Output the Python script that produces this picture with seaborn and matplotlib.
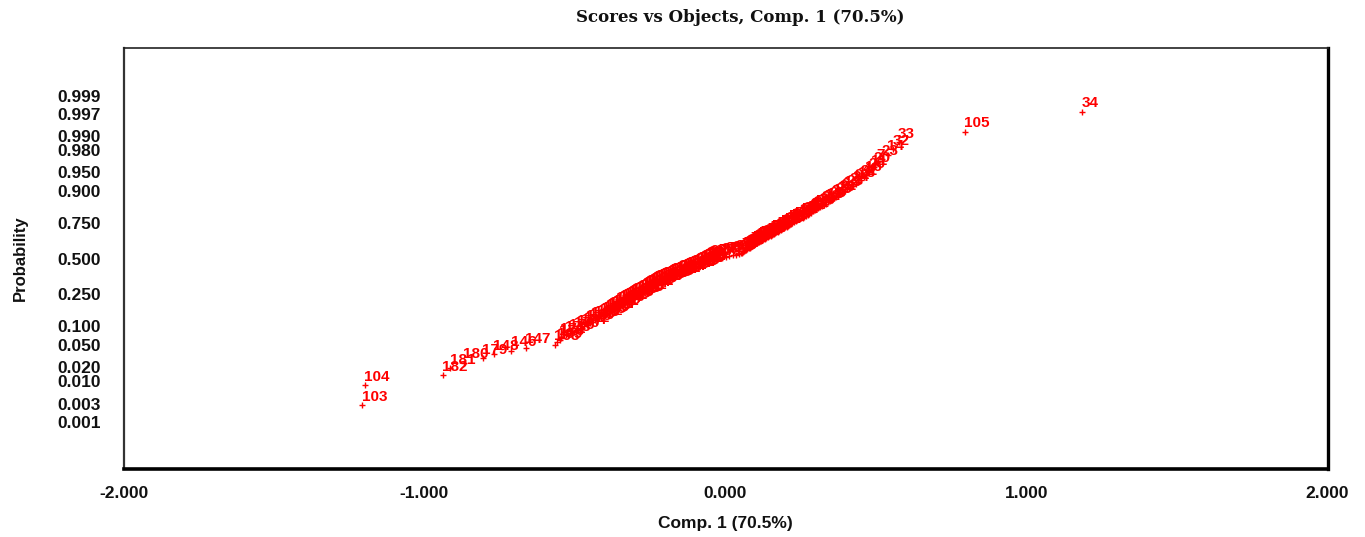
import matplotlib
matplotlib.use("Agg")
import matplotlib.pyplot as plt
import numpy as np
import pandas as pd
import seaborn as sns
from statistics import NormalDist

# Component 1 scores, sorted ascending (one per object)
scores = [
    -1.206, -1.199, -0.940, -0.914, -0.870, -0.806, -0.770, -0.711, -0.664, -0.566,
    -0.559, -0.551, -0.546, -0.531, -0.518, -0.502, -0.491, -0.477, -0.469, -0.461,
    -0.450, -0.444, -0.433, -0.426, -0.414, -0.408, -0.400, -0.396, -0.388, -0.384,
    -0.376, -0.372, -0.364, -0.360, -0.352, -0.348, -0.340, -0.336, -0.329, -0.322,
    -0.318, -0.310, -0.307, -0.300, -0.297, -0.290, -0.287, -0.280, -0.276, -0.271,
    -0.266, -0.262, -0.256, -0.251, -0.247, -0.241, -0.237, -0.231, -0.226, -0.221,
    -0.214, -0.209, -0.202, -0.197, -0.190, -0.185, -0.178, -0.172, -0.167, -0.160,
    -0.155, -0.148, -0.142, -0.137, -0.130, -0.124, -0.119, -0.112, -0.106, -0.102,
    -0.097, -0.093, -0.088, -0.084, -0.080, -0.075, -0.071, -0.067, -0.062, -0.058,
    -0.054, -0.046, -0.033, -0.022, -0.010, 0.001, 0.013, 0.024, 0.036, 0.046,
    0.051, 0.054, 0.058, 0.062, 0.066, 0.069, 0.073, 0.077, 0.081, 0.084,
    0.088, 0.092, 0.096, 0.099, 0.104, 0.107, 0.112, 0.117, 0.121, 0.126,
    0.131, 0.136, 0.140, 0.145, 0.150, 0.155, 0.160, 0.164, 0.169, 0.174,
    0.179, 0.184, 0.188, 0.193, 0.198, 0.203, 0.208, 0.212, 0.217, 0.222,
    0.227, 0.233, 0.238, 0.244, 0.250, 0.256, 0.262, 0.267, 0.273, 0.279,
    0.285, 0.291, 0.296, 0.302, 0.308, 0.314, 0.321, 0.327, 0.334, 0.341,
    0.348, 0.354, 0.361, 0.368, 0.375, 0.381, 0.388, 0.396, 0.405, 0.414,
    0.423, 0.432, 0.441, 0.450, 0.459, 0.467, 0.476, 0.485, 0.493, 0.502,
    0.521, 0.540, 0.558, 0.575, 0.796, 1.186,
]

# Object numbers in the same (rank) order as the scores
object_ids = [
    103, 104, 182, 181, 180, 179, 148, 146, 147, 168,
    169, 176, 171, 178, 173, 170, 177, 174, 172, 175,
    160, 149, 165, 152, 158, 163, 150, 156, 161, 154,
    167, 151, 159, 164, 153, 157, 162, 155, 166, 183,
    140, 127, 186, 119, 133, 145, 108, 121, 137, 114,
    184, 129, 142, 111, 125, 136, 117, 131, 143, 106,
    123, 139, 110, 185, 128, 115, 141, 107, 132, 120,
    99, 134, 112, 126, 144, 118, 101, 130, 109, 138,
    95, 122, 113, 135, 124, 116, 90, 102, 86, 97,
    81, 93, 100, 77, 88, 96, 72, 84, 91, 98,
    65, 79, 94, 70, 87, 60, 83, 92, 68, 75,
    89, 55, 80, 63, 85, 71, 50, 76, 58, 82,
    66, 45, 73, 61, 78, 53, 69, 40, 64, 74,
    47, 57, 67, 36, 52, 62, 42, 56, 48, 59,
    38, 54, 43, 49, 35, 51, 39, 44, 46, 41,
    37, 12, 27, 5, 19, 30, 8, 22, 1, 15,
    25, 3, 17, 29, 10, 21, 6, 13, 28, 2,
    24, 9, 18, 31, 4, 16, 26, 11, 20, 7,
    23, 14, 32, 33, 105, 34,
]

prob_ticks = [0.001, 0.003, 0.010, 0.020, 0.050, 0.100, 0.250, 0.500,
              0.750, 0.900, 0.950, 0.980, 0.990, 0.997, 0.999]
x_ticks = [-2.0, -1.0, 0.0, 1.0, 2.0]

title = "Scores vs Objects, Comp. 1 (70.5%)"
x_label = "Comp. 1 (70.5%)"
y_label = "Probability"

# Normal probability positions from the ranks
nd = NormalDist()
n = len(scores)
ranks = np.arange(1, n + 1)
prob = (ranks - 0.5) / n
df = pd.DataFrame({
    "score": scores,
    "z": [nd.inv_cdf(p) for p in prob],
    "obj": object_ids[:n],
})

sns.set_style("white")
plt.rcParams["font.family"] = ["Liberation Sans", "DejaVu Sans"]

fig = plt.figure(figsize=(13.65, 5.37), dpi=100)
ax = fig.add_axes([123.5 / 1365, (537 - 469) / 537, 1204 / 1365, (469 - 48.3) / 537])

sns.scatterplot(data=df, x="score", y="z", marker="+", color="#ff0000",
                s=22, linewidth=1.0, ax=ax, legend=False, zorder=3)

for _, row in df.iterrows():
    ax.annotate(str(int(row["obj"])), (row["score"], row["z"]),
                xytext=(-0.5, 3.2), textcoords="offset points",
                ha="left", va="baseline", color="#ff0000",
                fontsize=11, fontweight="bold", zorder=4)

ax.set_xlim(-2.0, 2.0)
ax.set_ylim(-3.99, 3.99)

ax.set_xticks(x_ticks)
ax.set_xticklabels([f"{v:.3f}" for v in x_ticks])
ax.set_xticks(np.arange(-1.5, 2.0, 1.0), minor=True)
ax.set_yticks([nd.inv_cdf(p) for p in prob_ticks])
ax.set_yticklabels([f"{p:.3f}" for p in prob_ticks])

ax.tick_params(axis="both", which="both", direction="out", color="#222222",
               width=1.0, labelsize=12.5)
ax.tick_params(axis="y", length=8, pad=8.5)
ax.tick_params(axis="x", which="both", length=6, pad=6.5)
for lab in ax.get_xticklabels() + ax.get_yticklabels():
    lab.set_fontweight("bold")
    lab.set_color("#111111")

ax.spines["left"].set_linewidth(1.6)
ax.spines["left"].set_color("#333333")
ax.spines["top"].set_linewidth(1.2)
ax.spines["top"].set_color("#222222")
ax.spines["right"].set_linewidth(2.4)
ax.spines["right"].set_color("#000000")
ax.spines["bottom"].set_linewidth(2.6)
ax.spines["bottom"].set_color("#000000")

ax.set_xlabel(x_label, fontsize=12.5, fontweight="bold", labelpad=10.5, color="#111111")
ax.set_ylabel(y_label, fontsize=12, fontweight="bold", labelpad=21, color="#111111")

fig.text(0.542, 0.967, title, ha="center", va="center",
         fontsize=12, fontweight="bold", family="DejaVu Serif", color="#111111")

fig.savefig("out.png", dpi=100, facecolor="white")
